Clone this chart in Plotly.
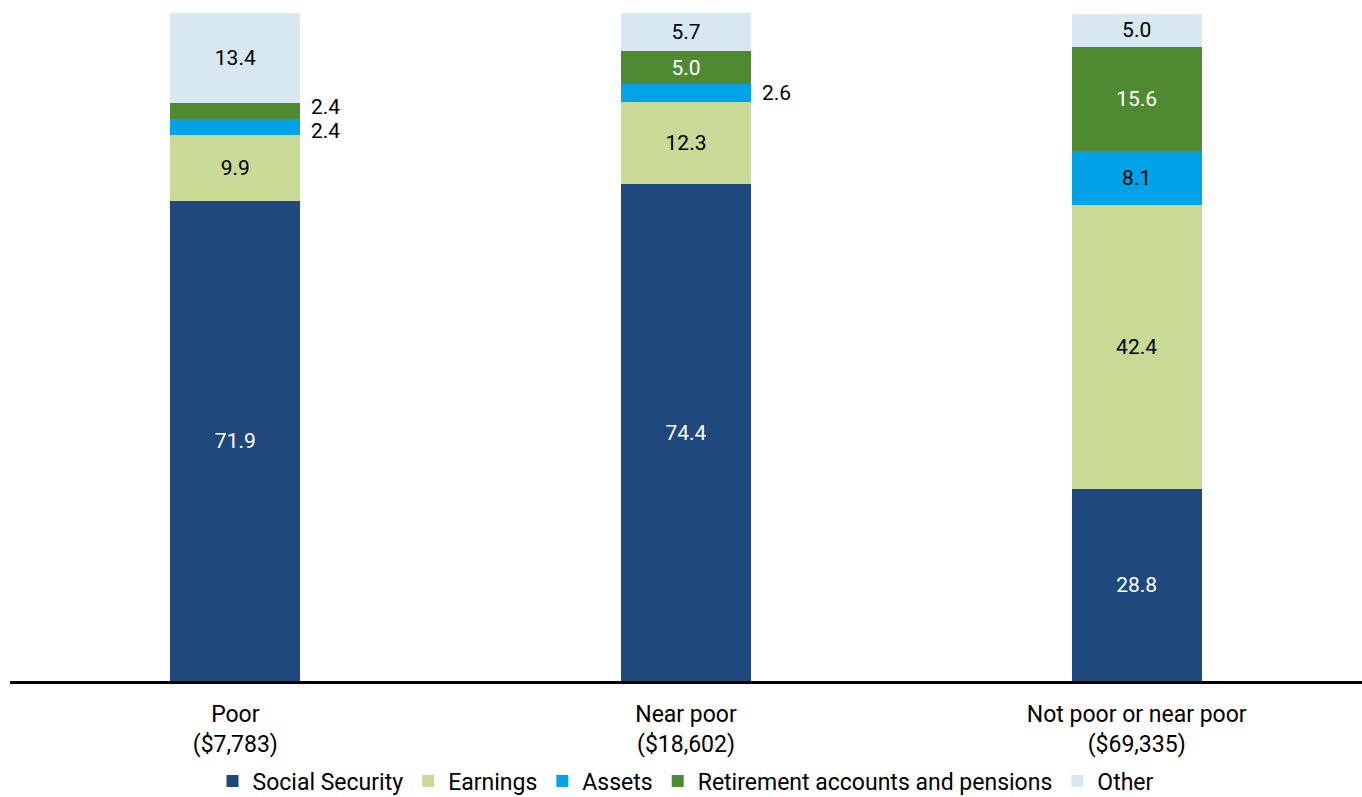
import plotly.graph_objects as go

# Share of income by source for older households, by poverty status
categories = ["Poor<br>($7,783)", "Near poor<br>($18,602)", "Not poor or near poor<br>($69,335)"]
series_names = ["Social Security", "Earnings", "Assets", "Retirement accounts and pensions", "Other"]
social_security = [71.9, 74.4, 28.8]
earnings = [9.9, 12.3, 42.4]
assets = [2.4, 2.6, 8.1]
retirement = [2.4, 5.0, 15.6]
other = [13.4, 5.7, 5.0]

series_values = [social_security, earnings, assets, retirement, other]
colors = ["#1F497D", "#C8DA96", "#00A3E8", "#4F8A32", "#D8E8F3"]
label_colors = ["white", "black", "black", "white", "black"]

FONT = "Roboto"
LABEL_SIZE = 21
AXIS_SIZE = 23
SMALL = 3.0  # segments thinner than this get their label beside the bar

fig = go.Figure()
for name, vals, col, tcol in zip(series_names, series_values, colors, label_colors):
    fig.add_trace(go.Bar(
        name=name,
        x=categories,
        y=vals,
        marker=dict(color=col, line=dict(width=0)),
        text=[f"{v:.1f}" if v >= SMALL else "" for v in vals],
        textposition="inside",
        insidetextanchor="middle",
        textangle=0,
        textfont=dict(color=tcol, size=LABEL_SIZE, family=FONT),
        hoverinfo="skip",
    ))

# labels for thin segments, placed to the right of the bar and spread apart
for ci, cat in enumerate(categories):
    base = 0.0
    outside = []
    for vals in series_values:
        v = vals[ci]
        if v < SMALL:
            outside.append((base + v / 2, v))
        base += v
    n = len(outside)
    for k, (mid, v) in enumerate(outside):
        fig.add_annotation(
            x=ci, y=mid, xref="x", yref="y",
            text=f"{v:.1f}", showarrow=False,
            xanchor="left", yanchor="middle",
            xshift=74, yshift=(k - (n - 1) / 2) * 8,
            font=dict(color="black", size=LABEL_SIZE, family=FONT),
        )

fig.update_layout(
    barmode="stack",
    bargap=0.712,
    width=1362, height=797,
    margin=dict(l=10, r=0, t=13, b=116, autoexpand=False),
    paper_bgcolor="white",
    plot_bgcolor="white",
    font=dict(family=FONT, size=AXIS_SIZE, color="black"),
    uniformtext=dict(minsize=LABEL_SIZE, mode="show"),
    xaxis=dict(
        showline=True, linecolor="black", linewidth=3,
        ticks="", showgrid=False, automargin=False,
        ticklabelstandoff=10,
        tickfont=dict(size=AXIS_SIZE, family=FONT, color="black"),
    ),
    yaxis=dict(range=[0, 100], visible=False, showgrid=False, zeroline=False),
    legend=dict(
        orientation="h", x=0.5, xanchor="center",
        y=-(781 - 681) / 668, yanchor="middle",
        font=dict(size=AXIS_SIZE, family=FONT, color="black"),
        traceorder="normal",
    ),
    showlegend=True,
)

fig.write_html("out.html")
